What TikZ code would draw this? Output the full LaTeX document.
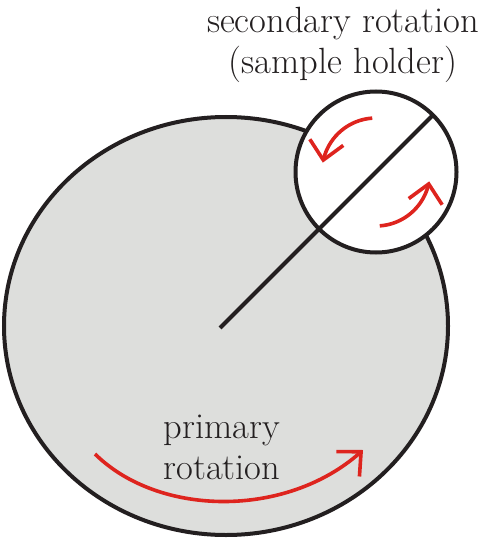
\documentclass[tikz,border=0pt]{standalone}
\usetikzlibrary{shapes.geometric,arrows.meta,bending,calc}
\definecolor{platefill}{RGB}{221,222,220}
\definecolor{arrowred}{RGB}{222,36,30}
\definecolor{inkblack}{RGB}{35,31,32}
\begin{document}
\begin{tikzpicture}[x=1pt,y=-1pt,
  outline/.style={draw=inkblack,line width=4pt},
  redarrow/.style={draw=arrowred,line width=3.6pt,
    -{Straight Barb[length=18pt,width=34pt,line width=3.6pt,flex]}},
  label/.style={font=\fontsize{36.5}{41}\selectfont,align=center,text=inkblack,inner sep=0pt}]
  \useasboundingbox (0,0) rectangle (484,540);
  % primary plate
  \node[ellipse,outline,fill=platefill,minimum width=444pt,minimum height=418pt,inner sep=0pt,outer sep=0pt] (plate) at (226,326) {};
  % sample holder
  \node[circle,outline,fill=white,minimum size=161pt,inner sep=0pt,outer sep=0pt] (holder) at (376,172) {};
  \coordinate (C) at (220,328);
  \draw[line width=4pt,inkblack] (C) -- (holder.45);
  % secondary rotation arrows
  \draw[redarrow] ($(holder.center)+(-94:54)$) arc[start angle=-94,end angle=-170,radius=54];
  \draw[redarrow] ($(holder.center)+(86:54)$) arc[start angle=86,end angle=10,radius=54];
  % primary rotation arrow
  \draw[redarrow] (95,454) .. controls (160,518) and (290,518) .. (363,450);
  % labels
  \node[label] (sec) at (343,45) {secondary rotation\\(sample holder)};
  \node[label] (pri) at (222,447) {primary\\rotation};
\end{tikzpicture}
\end{document}
